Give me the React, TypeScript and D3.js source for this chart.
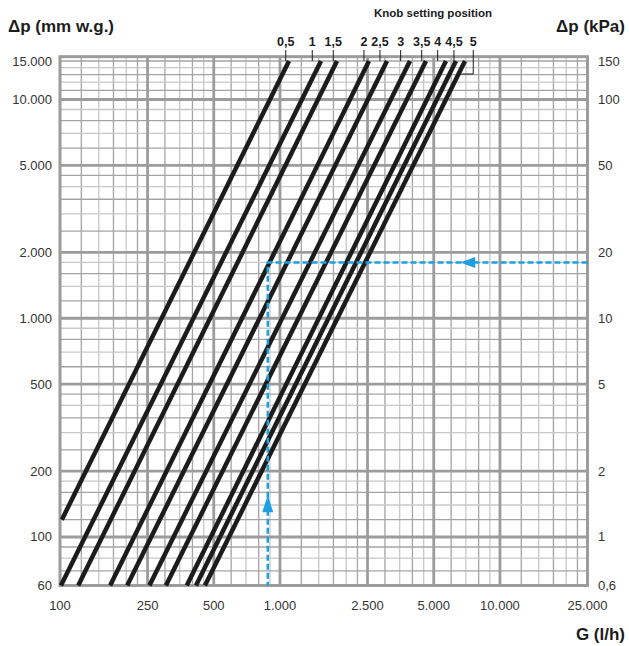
import React from "react";
import { scaleLog, line } from "d3";

// knob settings and the ends of each curve (G in l/h, dp in mm w.g.)
const settings = ["0,5", "1", "1,5", "2", "2,5", "3", "3,5", "4", "4,5", "5"];
const startG = [102, 101, 121, 169, 202, 255, 303, 377, 415, 456];
const startDp = [120, 60, 60, 60, 60, 60, 60, 60, 60, 60];
const endG = [1099, 1536, 1816, 2538, 3065, 3898, 4609, 5683, 6310, 6934];
const endDp = [15000, 15000, 15000, 15000, 15000, 15000, 15000, 15000, 15000, 15000];
// where each knob label sits (as G)
const labelG = [1062, 1402, 1747, 2409, 2848, 3537, 4408, 5210, 6178, 7561];

// axes
const xTicks = [100, 250, 500, 1000, 2500, 5000, 10000, 25000];
const xTickLabels = ["100", "250", "500", "1.000", "2.500", "5.000", "10.000", "25.000"];
const yTicks = [60, 100, 200, 500, 1000, 2000, 5000, 10000, 15000];
const yTickLabels = ["60", "100", "200", "500", "1.000", "2.000", "5.000", "10.000", "15.000"];
const kpaLabels = ["0,6", "1", "2", "5", "10", "20", "50", "100", "150"];
const yMajor = [100, 200, 500, 1000, 2000, 5000, 10000];
const xMajor = [250, 500, 1000, 2500, 5000, 10000];
// minor grid: [from, to, step]
const xSegments = [[100, 250, 25], [250, 500, 50], [500, 1000, 100], [1000, 2500, 250], [2500, 5000, 500], [5000, 10000, 1000], [10000, 25000, 2500]];
const ySegments = [[60, 100, 10], [100, 200, 20], [200, 500, 50], [500, 1000, 100], [1000, 2000, 200], [2000, 5000, 500], [5000, 10000, 1000], [10000, 15700, 1000]];
const frameTop = 15700;

// example reading (blue dashed)
const exampleG = 880;
const exampleDp = 1800;
const arrowLeftG = 6600;
const arrowUpDp = 155;

const W = 629;
const H = 646;
const blue = "#1d9fe2";
const font = "'Liberation Sans', Arial, sans-serif";

export default function App() {
  const x = scaleLog().domain([100, 25000]).range([60, 587.5]);
  const y = scaleLog().domain([60, 15000]).range([585.5, 61]);

  const minorX: { v: number; k: number }[] = [];
  xSegments.forEach(([a, b, s]) => {
    for (let k = 1; a + k * s < b - 1e-6; k++) minorX.push({ v: a + k * s, k });
  });
  const minorY: { v: number; k: number }[] = [];
  ySegments.forEach(([a, b, s]) => {
    for (let k = 1; a + k * s < b - 1e-6; k++) minorY.push({ v: a + k * s, k });
  });

  const x0 = x(100), x1 = x(25000), y0 = y(60), y1 = y(frameTop);
  const lineGen = line<[number, number]>().x((d) => x(d[0])).y((d) => y(d[1]));

  const ex = x(exampleG), ey = y(exampleDp);
  const ax = x(arrowLeftG), ay = y(arrowUpDp);

  return (
    <svg width={W} height={H} style={{ position: "absolute", left: 0, top: 0 }} fontFamily={font}>
      <rect width={W} height={H} fill="#fff" />
      {/* minor grid */}
      <g>
        {minorX.map((d, i) => (
          <line key={"mx" + i} x1={x(d.v)} x2={x(d.v)} y1={y0} y2={y1}
            stroke={d.k % 2 ? "#a4a4a4" : "#c8c8c8"} strokeWidth={1.3} />
        ))}
        {minorY.map((d, i) => (
          <line key={"my" + i} y1={y(d.v)} y2={y(d.v)} x1={x0} x2={x1}
            stroke={d.k % 2 ? "#a4a4a4" : "#c8c8c8"} strokeWidth={1.3} />
        ))}
      </g>
      {/* major grid */}
      <g stroke="#9c9c9c" strokeWidth={2.8}>
        {xMajor.map((v) => (
          <line key={"Mx" + v} x1={x(v)} x2={x(v)} y1={y0} y2={y1} />
        ))}
        {yMajor.map((v) => (
          <line key={"My" + v} y1={y(v)} y2={y(v)} x1={x0} x2={x1} />
        ))}
      </g>
      <rect x={x0} y={y1} width={x1 - x0} height={y0 - y1} fill="none" stroke="#9c9c9c" strokeWidth={3} />

      {/* curves */}
      <g stroke="#1c1c1c" strokeWidth={4.5} fill="none">
        {settings.map((s, i) => (
          <path key={s} d={lineGen([[startG[i], startDp[i]], [endG[i], endDp[i]]]) || ""} />
        ))}
      </g>

      {/* example reading */}
      <path d={`M${x1},${ey}H${ex}V${y0}`} fill="none" stroke={blue} strokeWidth={2.5} strokeDasharray="6 3" />
      <polygon points={`${ax},${ey} ${ax + 15},${ey - 5.5} ${ax + 15},${ey + 5.5}`} fill={blue} />
      <polygon points={`${ex},${ay} ${ex - 5.5},${ay + 17} ${ex + 5.5},${ay + 17}`} fill={blue} />

      {/* knob labels and leaders */}
      <text x={433} y={17} textAnchor="middle" fontSize={11.5} fontWeight="bold" fill="#1c1c1c">
        Knob setting position
      </text>
      <g stroke="#1c1c1c" strokeWidth={1}>
        {settings.map((s, i) => {
          const lx = x(labelG[i]);
          if (i === settings.length - 1) {
            const hy = y(endDp[i]) + 13;
            return <path key={s} d={`M${lx},50V${hy}H${lx - 12}`} fill="none" />;
          }
          return <line key={s} x1={lx} x2={lx} y1={50} y2={y(endDp[i])} />;
        })}
      </g>
      <g fontSize={12.5} fontWeight="bold" fill="#1c1c1c" textAnchor="middle">
        {settings.map((s, i) => (
          <text key={s} x={x(labelG[i])} y={46}>{s}</text>
        ))}
      </g>

      {/* axis labels */}
      <g fontSize={13} fill="#333">
        {yTicks.map((v, i) => (
          <text key={"l" + v} x={52} y={y(v) + 4.5} textAnchor="end">{yTickLabels[i]}</text>
        ))}
        {yTicks.map((v, i) => (
          <text key={"r" + v} x={598} y={y(v) + 4.5}>{kpaLabels[i]}</text>
        ))}
        {xTicks.map((v, i) => (
          <text key={"b" + v} x={x(v)} y={610} textAnchor="middle">{xTickLabels[i]}</text>
        ))}
      </g>
      <text x={8} y={32} fontSize={17} fontWeight="bold" fill="#1c1c1c">Δp (mm w.g.)</text>
      <text x={625} y={32} fontSize={17} fontWeight="bold" fill="#1c1c1c" textAnchor="end">Δp (kPa)</text>
      <text x={625} y={640} fontSize={17} fontWeight="bold" fill="#1c1c1c" textAnchor="end">G (l/h)</text>
    </svg>
  );
}
